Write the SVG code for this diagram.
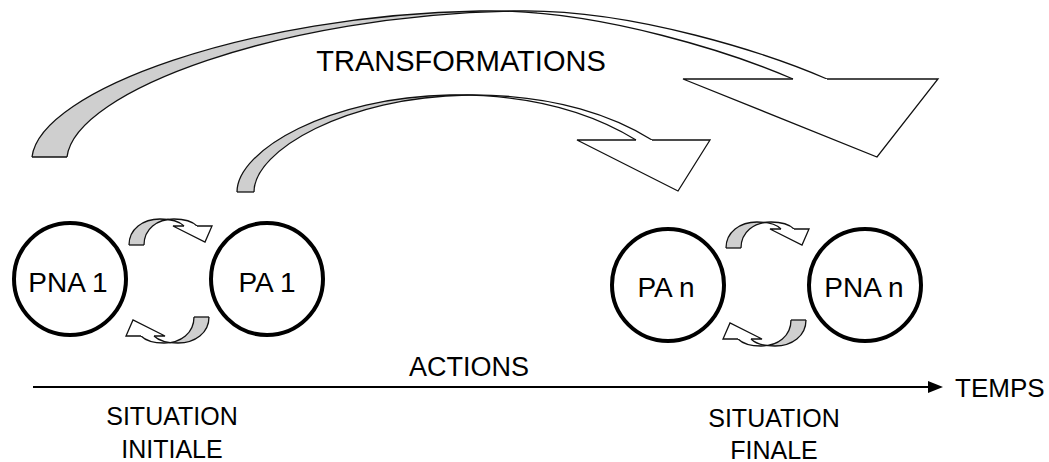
<svg xmlns="http://www.w3.org/2000/svg" width="1049" height="462" viewBox="0 0 1049 462">
  <style>
    .lbl { font-family: "Liberation Sans", Arial, sans-serif; fill: #000; }
    .node circle { fill: #fff; stroke: #000; stroke-width: 4; }
    .edge { fill: none; stroke: #111; stroke-width: 1.3; }
    .back { fill: #cfcfcf; stroke: none; }
    .head { fill: #fff; stroke: #111; stroke-width: 1.3; stroke-linejoin: miter; }
  </style>
  <defs>
    <clipPath id="clipBig"><rect x="0" y="0" width="537" height="200"/></clipPath>
    <clipPath id="clipMid"><rect x="0" y="0" width="478" height="220"/></clipPath>
    <clipPath id="clipLoop"><rect x="100" y="200" width="67" height="60"/></clipPath>
    <!-- small curved arrow looping over the top between two circles -->
    <g id="loopUp">
      <path class="back" clip-path="url(#clipLoop)" d="M129,245 C129,229 143,219 160,219 C171,219 179,221 184,226 L197,226 C192,221 185,219 174,219 C157,219 144,229 144,245 Z"/>
      <path class="edge" d="M129,245 C129,229 143,219 160,219 C171,219 179,221 184,226"/>
      <path class="edge" d="M144,245 C144,229 157,219 174,219 C185,219 192,221 197,226"/>
      <path class="edge" d="M129,245 L144,245"/>
      <path class="head" d="M184,226 L173,226 L205,242 L212,226 L197,226"/>
    </g>
    <g id="loopPair">
      <use href="#loopUp"/>
      <use href="#loopUp" transform="rotate(180 169 281)"/>
    </g>
  </defs>

  <!-- connectors -->
  <g id="connectors">
    <!-- long transformation arrow -->
    <g id="arrow-transform-long">
      <path class="back" clip-path="url(#clipBig)" d="M32,157 C40,90 250,15 480,11 C600,8 740,56 793,79 L827,79 C774,56 634,8 514,11 C284,15 75,90 67,157 Z"/>
      <path class="edge" d="M32,157 C40,90 250,15 480,11 C600,8 740,56 793,79"/>
      <path class="edge" d="M67,157 C75,90 284,15 514,11 C634,8 774,56 827,79"/>
      <path class="edge" d="M32,157 L67,157"/>
      <path class="head" d="M793,79 L683,79 L877,157 L938,79 L827,79"/>
    </g>
    <!-- short transformation arrow -->
    <g id="arrow-transform-short">
      <path class="back" clip-path="url(#clipMid)" d="M237,192 C237,150 330,97 450,95 C540,94 600,118 636,140 L652,140 C617,118 557,94 467,95 C347,97 254,150 254,192 Z"/>
      <path class="edge" d="M237,192 C237,150 330,97 450,95 C540,94 600,118 636,140"/>
      <path class="edge" d="M254,192 C254,150 347,97 467,95 C557,94 617,118 652,140"/>
      <path class="edge" d="M237,192 L254,192"/>
      <path class="head" d="M636,140 L577,140 L678,191 L710,140 L652,140"/>
    </g>
    <!-- action loops -->
    <use id="loops-initial" href="#loopPair"/>
    <use id="loops-final" href="#loopPair" transform="translate(597,3)"/>
    <!-- time axis -->
    <g id="axis-time">
      <line x1="33" y1="387" x2="930" y2="387" stroke="#000" stroke-width="2"/>
      <polygon points="928,381 943,387 928,393" fill="#000"/>
    </g>
  </g>

  <!-- nodes -->
  <g id="node-pna1" class="node">
    <circle cx="70" cy="279" r="56"/>
    <text class="lbl" x="68" y="292" font-size="28" text-anchor="middle">PNA 1</text>
  </g>
  <g id="node-pa1" class="node">
    <circle cx="267" cy="279" r="56"/>
    <text class="lbl" x="267" y="292" font-size="28" text-anchor="middle">PA 1</text>
  </g>
  <g id="node-pan" class="node">
    <circle cx="668" cy="285" r="56"/>
    <text class="lbl" x="666" y="297" font-size="28" text-anchor="middle">PA n</text>
  </g>
  <g id="node-pnan" class="node">
    <circle cx="865" cy="285" r="56"/>
    <text class="lbl" x="864" y="297" font-size="28" text-anchor="middle">PNA n</text>
  </g>

  <!-- labels -->
  <g id="labels" class="lbl">
    <text x="461" y="71" font-size="29" text-anchor="middle">TRANSFORMATIONS</text>
    <text x="469" y="376" font-size="27" text-anchor="middle">ACTIONS</text>
    <text x="955" y="397" font-size="26">TEMPS</text>
    <text x="172" y="425" font-size="25" text-anchor="middle">SITUATION</text>
    <text x="172" y="458" font-size="25" text-anchor="middle">INITIALE</text>
    <text x="774" y="427" font-size="25" text-anchor="middle">SITUATION</text>
    <text x="774" y="459" font-size="25" text-anchor="middle">FINALE</text>
  </g>
</svg>
